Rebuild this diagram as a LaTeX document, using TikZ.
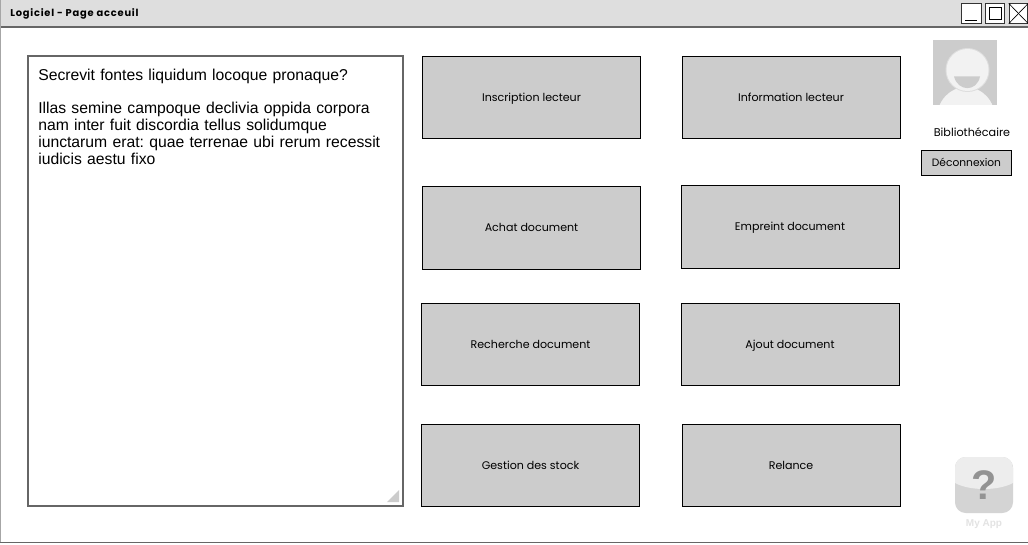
\documentclass[tikz,border=0pt]{standalone}
\usepackage{fontspec}
\setmainfont{Liberation Sans}
\newfontfamily\handfont{Poppins}
\newfontfamily\titlefont[LetterSpace=8]{Poppins}
\definecolor{barfill}{HTML}{DEDEDE}
\definecolor{btnfill}{HTML}{CCCCCC}
\definecolor{edgegray}{HTML}{666666}
\newcommand{\btntext}[1]{\raisebox{-0.8pt}[\height][\depth]{\vphantom{Ajg}#1}}
\tikzset{
  menubtn/.style={draw=black,fill=btnfill,line width=0.7pt,minimum width=163.5pt,minimum height=62pt,inner sep=0pt,font=\handfont\fontsize{8.3}{10}\selectfont},
  winbtn/.style={draw=black!80,fill=white,line width=0.6pt,minimum width=14.5pt,minimum height=14.5pt,inner sep=0pt},
}
\begin{document}
\begin{tikzpicture}[x=0.75pt,y=-0.75pt]
\useasboundingbox (0,0) rectangle (1028,545);
\fill[white] (0,0) rectangle (1028,545);
% window
\fill[barfill] (0,0) rectangle (1028,27);
\draw[edgegray,line width=1.2pt] (0,27)--(1028,27);
\draw[gray!70,line width=1pt] (0.5,0)--(0.5,542);
\draw[edgegray,line width=1.2pt] (0,542.5)--(1028,542.5);
\node[anchor=west,inner sep=0pt,font=\titlefont\bfseries\fontsize{7.4}{9}\selectfont] (title) at (10,13.5){Logiciel - Page acceuil};
\node[winbtn] (minbtn) at (971.5,13.5){};
\node[winbtn] (maxbtn) at (995,13.5){};
\node[winbtn,minimum width=14pt] (closebtn) at (1018.5,13.5){};
\draw[line width=0.6pt] (965,20)--(977,20);
\draw[line width=0.6pt] (989,7) rectangle (1001,19);
\draw[line width=0.5pt] (closebtn.north west)--(closebtn.south east);
\draw[line width=0.5pt] (closebtn.north east)--(closebtn.south west);
% text area
\node[draw=edgegray,fill=white,line width=1.5pt,minimum width=281pt,minimum height=337.5pt,inner sep=0pt] (textarea) at (215.5,281){};
\node[anchor=north west,inner sep=0pt,text width=265pt,align=left,font=\frenchspacing\fontsize{11.8}{12.75}\selectfont] (textbody) at (38,69){Secrevit fontes liquidum locoque pronaque?\\[12.2pt]Illas semine campoque declivia oppida corpora\\nam inter fuit discordia tellus solidumque\\iunctarum erat: quae terrenae ubi rerum recessit\\iudicis aestu fixo};
\fill[btnfill] (387,502)--(399,502)--(399,490)--cycle;
% buttons
\node[menubtn] (inscription) at (531.5,97.5){\btntext{Inscription lecteur}};
\node[menubtn] (information) at (791,97.5){\btntext{Information lecteur}};
\node[menubtn] (achat) at (531.5,228){\btntext{Achat document}};
\node[menubtn] (empreint) at (790,227){\btntext{Empreint document}};
\node[menubtn] (recherche) at (530.5,344.5){\btntext{Recherche document}};
\node[menubtn] (ajout) at (790,344.5){\btntext{Ajout document}};
\node[menubtn] (gestion) at (530.5,465.5){\btntext{Gestion des stock}};
\node[menubtn] (relance) at (791,465.5){\btntext{Relance}};
% user
\fill[btnfill] (932.5,40) rectangle (997,105);
\begin{scope}
\clip (932.5,40) rectangle (997,105);
\fill[white!95!black] (966,118) ellipse (29 and 31);
\fill[btnfill!65!white] (967.5,70) circle (22);
\fill[white!95!black] (967.5,70) circle (21);
\fill[btnfill] (954,76.5) .. controls (958,92) and (977,92) .. (980,76.5) -- cycle;
\end{scope}
\node[font=\handfont\fontsize{8.4}{10}\selectfont] (username) at (972,132){Bibliothécaire};
\node[draw=black,fill=btnfill,line width=0.7pt,minimum width=68pt,minimum height=19pt,inner sep=0pt,font=\handfont\fontsize{8}{10}\selectfont] (logout) at (966.5,163){\btntext{Déconnexion}};
% help icon
\fill[btnfill!85!white,rounded corners=8pt] (955,457) rectangle (1013,513);
\begin{scope}
\clip[rounded corners=8pt] (955,457) rectangle (1013,513);
\fill[white!93!black] (955,457) rectangle (1013,483);
\fill[white!93!black] (955,483) .. controls (970,491) and (998,491) .. (1013,483) -- cycle;
\end{scope}
\node[text=gray!85,font=\bfseries\fontsize{31}{32}\selectfont] (helpmark) at (984.5,485){?};
\node[text=gray!22,font=\bfseries\fontsize{7.5}{9}\selectfont] (helplabel) at (984,524){My App};
\end{tikzpicture}
\end{document}
